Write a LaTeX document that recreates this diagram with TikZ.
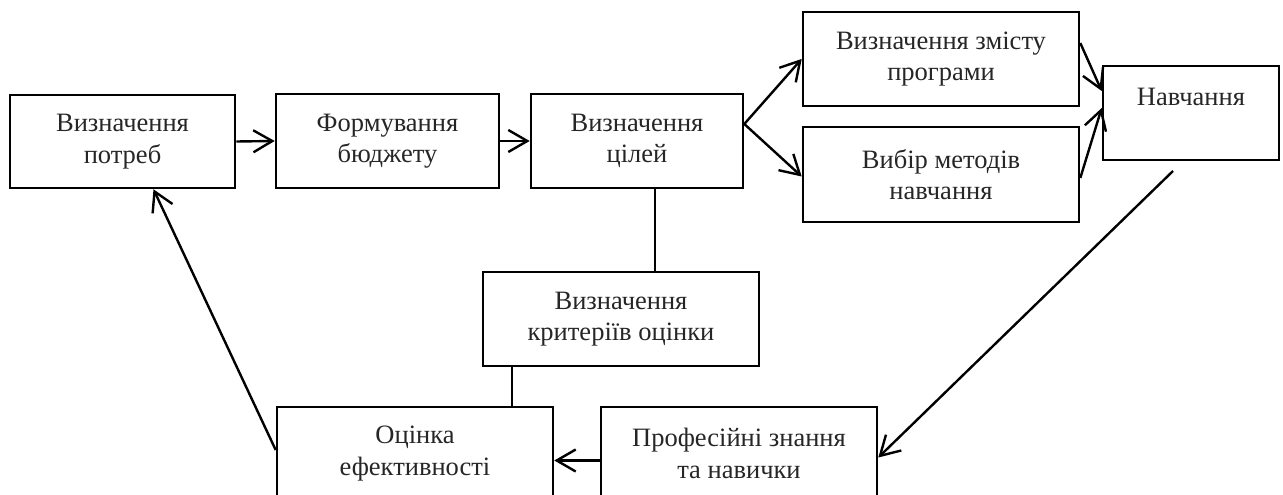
\documentclass[tikz,border=0pt]{standalone}
\usepackage{fontspec}
\setmainfont{Liberation Serif}
\usetikzlibrary{arrows.meta,calc}
\begin{document}
\begin{tikzpicture}[x=1pt,y=-1pt,
  box/.style={draw=black,line width=2.6pt,inner sep=0pt,align=center,
    font=\fontsize{26.5}{31.5}\selectfont,text=black!85},
  arr/.style={line width=2.4pt,-{Straight Barb[length=19pt,width=22pt]}},
  ln/.style={line width=2.4pt}]
\useasboundingbox (0,0) rectangle (1283,495);
\clip (0,0) rectangle (1283,495);
\node[box,minimum width=225pt,minimum height=93pt] (b1) at (122.5,141.5) {Визначення\\потреб};
\node[box,minimum width=223pt,minimum height=94pt] (b2) at (387.5,141) {Формування\\бюджету};
\node[box,minimum width=212pt,minimum height=94pt] (b3) at (637,141) {Визначення\\цілей};
\node[box,minimum width=276pt,minimum height=94pt] (b4) at (941,59) {Визначення змісту\\програми};
\node[box,minimum width=276pt,minimum height=95pt] (b5) at (941,174.5) {Вибір методів\\навчання};
\node[box,minimum width=176pt,minimum height=94pt] (b6) at (1191,113) {Навчання\\\mbox{}};
\node[box,minimum width=276pt,minimum height=94pt] (b7) at (621,319) {Визначення\\критеріїв оцінки};
\node[box,minimum width=276pt,minimum height=93pt] (b8) at (415,453.5) {Оцінка\\ефективності};
\node[box,minimum width=276pt,minimum height=93pt] (b9) at (739,453.5) {Професійні знання\\та навички};
% connectors
\draw[arr] (b1.east) -- (b2.west);
\draw[arr] (b2.east) -- (b3.west);
\coordinate (s3) at ($(b3.east)+(0,-17)$);
\draw[arr] (s3) -- (b4.west);
\draw[arr] (s3) -- ($(b5.west)+(0,2)$);
\draw[arr] ($(b4.east)+(0,-16)$) -- ($(b6.west)+(0,-22)$);
\draw[arr] ($(b5.east)+(0,3.5)$) -- ($(b6.west)+(0,-5)$);
\coordinate (s6) at (1173,171);
\draw[arr] (s6) -- ($(b9.east)+(0,4)$);
\draw[arr] ($(b9.west)+(0,7)$) -- ($(b8.east)+(0,7)$);
\draw[arr] ($(b8.west)+(0,-3.5)$) -- ($(b1.south)+(31,0)$);
\coordinate (c37) at ($(b3.south)+(18,0)$);
\draw[ln] (c37) -- (c37 |- b7.north);
\coordinate (c78) at ($(b7.south west)+(30,0)$);
\draw[ln] (c78) -- (c78 |- b8.north);
\end{tikzpicture}
\end{document}
